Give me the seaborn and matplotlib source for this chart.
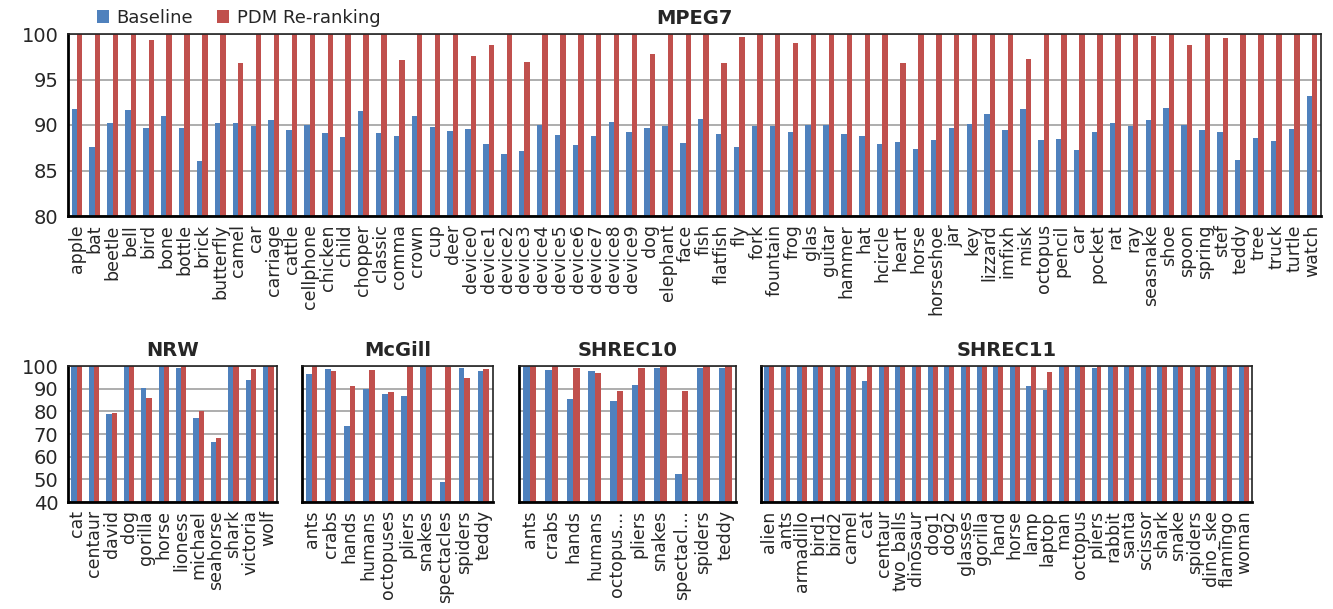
import numpy as np
import pandas as pd
import matplotlib
matplotlib.use("Agg")
import matplotlib.pyplot as plt
import seaborn as sns

# colours (Excel 2007 style)
BLUE = "#4F81BD"
RED = "#C0504D"

# MPEG7
mpeg7_labels = ["apple", "bat", "beetle", "bell", "bird", "bone", "bottle", "brick", "butterfly", "camel",
                "car", "carriage", "cattle", "cellphone", "chicken", "child", "chopper", "classic", "comma", "crown",
                "cup", "deer", "device0", "device1", "device2", "device3", "device4", "device5", "device6", "device7",
                "device8", "device9", "dog", "elephant", "face", "fish", "flatfish", "fly", "fork", "fountain",
                "frog", "glas", "guitar", "hammer", "hat", "hcircle", "heart", "horse", "horseshoe", "jar",
                "key", "lizzard", "imfixh", "misk", "octopus", "pencil", "car", "pocket", "rat", "ray",
                "seasnake", "shoe", "spoon", "spring", "stef", "teddy", "tree", "truck", "turtle", "watch"]
mpeg7_base = [91.8, 87.6, 90.2, 91.6, 89.7, 90.95, 89.7, 86.0, 90.2, 90.25,
              89.9, 90.6, 89.45, 90.0, 89.15, 88.7, 91.5, 89.15, 88.8, 90.95,
              89.75, 89.3, 89.6, 87.9, 86.8, 87.1, 90.0, 88.9, 87.8, 88.8,
              90.3, 89.2, 89.7, 89.9, 88.0, 90.7, 89.0, 87.6, 89.9, 89.9,
              89.2, 90.0, 90.0, 89.0, 88.8, 87.9, 88.1, 87.4, 88.3, 89.7,
              90.1, 91.2, 89.5, 91.75, 88.4, 88.5, 87.2, 89.2, 90.25, 89.85,
              90.5, 91.9, 90.0, 89.4, 89.2, 86.2, 88.6, 88.2, 89.55, 93.2]
mpeg7_pdm = [100, 100, 100, 100, 99.3, 100, 100, 100, 100, 96.85,
             100, 100, 100, 100, 100, 100, 100, 100, 97.1, 100,
             100, 100, 97.6, 98.8, 100, 96.9, 100, 100, 100, 100,
             100, 100, 97.8, 100, 100, 100, 96.8, 99.7, 100, 100,
             99.0, 100, 100, 100, 100, 100, 96.8, 100, 100, 99.85,
             100, 100, 100, 97.2, 100, 100, 100, 100, 100, 100,
             99.8, 100, 98.8, 100, 99.6, 100, 100, 100, 100, 100]

# NRW
nrw_labels = ["cat", "centaur", "david", "dog", "gorilla", "horse", "lioness", "michael", "seahorse",
              "shark", "victoria", "wolf"]
nrw_base = [100, 100, 78.9, 100, 90.5, 100, 99.0, 77.0, 66.5, 100, 94.0, 100]
nrw_pdm = [100, 100, 79.4, 100, 85.9, 100, 100, 80.1, 68.2, 100, 98.5, 100]

# McGill
mcgill_labels = ["ants", "crabs", "hands", "humans", "octopuses", "pliers", "snakes", "spectacles",
                 "spiders", "teddy"]
mcgill_base = [96.3, 98.5, 73.4, 90.0, 87.8, 86.7, 100, 49.0, 99.0, 97.7]
mcgill_pdm = [100, 97.7, 91.1, 98.1, 88.6, 100, 100, 99.4, 94.6, 98.8]

# SHREC10
shrec10_labels = ["ants", "crabs", "hands", "humans", "octopus…", "pliers", "snakes", "spectacl…",
                  "spiders", "teddy"]
shrec10_base = [100, 98.4, 85.3, 97.6, 84.4, 91.6, 99.0, 52.5, 99.0, 99.0]
shrec10_pdm = [100, 100, 99.0, 96.8, 89.1, 99.1, 100, 89.1, 100, 100]

# SHREC11
shrec11_labels = ["alien", "ants", "armadillo", "bird1", "bird2", "camel", "cat", "centaur", "two_balls",
                  "dinosaur", "dog1", "dog2", "glasses", "gorilla", "hand", "horse", "lamp", "laptop",
                  "man", "octopus", "pliers", "rabbit", "santa", "scissor", "shark", "snake", "spiders",
                  "dino_ske", "flamingo", "woman"]
shrec11_base = [100, 100, 100, 100, 100, 100, 93.4, 100, 100, 100, 100, 100, 100, 100, 100, 100,
                91.2, 89.6, 100, 100, 99.1, 100, 100, 100, 100, 100, 100, 100, 100, 100]
shrec11_pdm = [100, 100, 100, 100, 100, 100, 100, 100, 100, 100, 100, 100, 100, 100, 100, 100,
               100, 97.2, 100, 100, 100, 100, 100, 100, 100, 100, 100, 100, 100, 100]

W, H = 1333, 609
fig = plt.figure(figsize=(W / 100, H / 100), dpi=100)


def px_axes(x0, x1, ytop, ybot):
    return fig.add_axes([x0 / W, 1 - ybot / H, (x1 - x0) / W, (ybot - ytop) / H])


def draw(ax, title, labels, base, pdm, ylim, yticks, show_ylabels, xfs):
    n = len(labels)
    df = pd.DataFrame({
        "idx": list(range(n)) * 2,
        "value": list(base) + list(pdm),
        "method": ["Baseline"] * n + ["PDM Re-ranking"] * n,
    })
    sns.barplot(data=df, x="idx", y="value", hue="method", palette=[BLUE, RED],
                width=0.6, saturation=1, errorbar=None, linewidth=0, ax=ax, legend=True)
    ax.set_xlim(-0.5, n - 0.5)
    ax.set_ylim(*ylim)
    ax.set_yticks(yticks)
    if show_ylabels:
        ax.set_yticklabels([str(t) for t in yticks], fontsize=14)
    else:
        ax.set_yticklabels([])
    ax.set_xticks(range(n))
    ax.set_xticklabels(labels, rotation=90, fontsize=xfs)
    # tick marks between categories, Excel style
    ax.set_xticks(np.arange(-0.5, n, 1.0), minor=True)
    ax.tick_params(axis="x", which="major", length=0, pad=6)
    ax.tick_params(axis="x", which="minor", length=6, width=1.5, direction="out")
    ax.tick_params(axis="y", length=5, width=1.5, direction="out", pad=2)
    ax.set_xlabel("")
    ax.set_ylabel("")
    ax.grid(axis="y", color="#a0a0a0", linewidth=1.2)
    ax.set_axisbelow(True)
    for s in ["left", "bottom"]:
        ax.spines[s].set_linewidth(2)
        ax.spines[s].set_color("black")
    for s in ["top", "right"]:
        ax.spines[s].set_linewidth(1.2)
        ax.spines[s].set_color("#222222")
    ax.set_title(title, fontsize=14, fontweight="bold", pad=7)
    ax.get_legend().remove()


sns.set_style("white")
plt.rcParams['font.family'] = ['DejaVu Sans']

ax_top = px_axes(68, 1321, 34, 216)
draw(ax_top, "MPEG7", mpeg7_labels, mpeg7_base, mpeg7_pdm, (80, 100), [80, 85, 90, 95, 100], True, 12.5)
handles, lbls = ax_top.get_legend_handles_labels()
ax_top.legend(handles, lbls, ncol=2, loc="center left", bbox_to_anchor=(0.023, 1.088),
              frameon=False, fontsize=13, handlelength=0.7, handleheight=0.7,
              handletextpad=0.4, columnspacing=1.3, borderaxespad=0, borderpad=0)

bottom = [
    ("NRW", nrw_labels, nrw_base, nrw_pdm, 68, 277, True),
    ("McGill", mcgill_labels, mcgill_base, mcgill_pdm, 302, 493, False),
    ("SHREC10", shrec10_labels, shrec10_base, shrec10_pdm, 519, 736, False),
    ("SHREC11", shrec11_labels, shrec11_base, shrec11_pdm, 761, 1252, False),
]
for title, labels, base, pdm, x0, x1, show in bottom:
    ax = px_axes(x0, x1, 366, 502)
    draw(ax, title, labels, base, pdm, (40, 100), [40, 50, 60, 70, 80, 90, 100], show, 12.5)

fig.savefig("out.png", dpi=100)
